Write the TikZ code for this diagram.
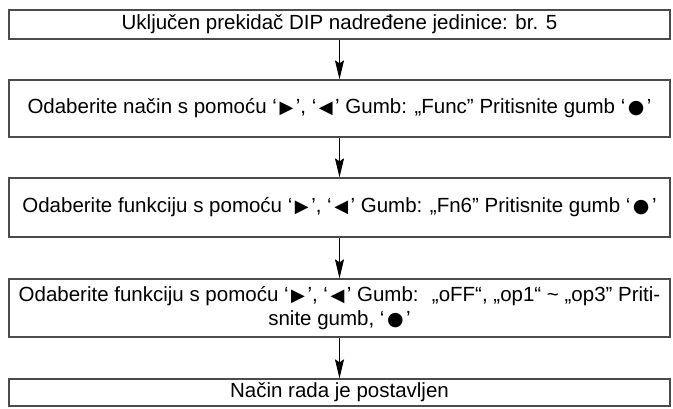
\documentclass[tikz,border=0pt]{standalone}
\usepackage{fontspec}
\setmainfont{Liberation Sans}
\newfontfamily\symfont{DejaVu Sans}
\usetikzlibrary{arrows.meta}
\tikzset{>={Stealth[length=19pt,width=9pt,inset=3pt]}}
\tikzset{stepbox/.style={draw={rgb,255:red,75;green,75;blue,75}, line width=1.3pt,
    minimum width=661pt, inner sep=0pt, align=center, font=\fontsize{20.5}{24.5}\selectfont}}
\newcommand{\rtri}{\hspace{2.5pt}{\symfont\fontsize{18}{18}\selectfont ▶}\hspace{2.5pt}}
\newcommand{\ltri}{\hspace{2.5pt}{\symfont\fontsize{18}{18}\selectfont ◀}\hspace{2.5pt}}
\newcommand{\dotbtn}{\hspace{2.5pt}{\symfont\fontsize{19}{19}\selectfont ●}\hspace{2.5pt}}

\begin{document}
\begin{tikzpicture}[x=1pt, y=-1pt]
      \useasboundingbox (0, 0) rectangle (673, 409);
      % boxes
      \node[stepbox, minimum height=29pt] (dip) at (339.5, 24.5) {Uključen prekidač DIP nadređene jedinice: br. 5};
      \node[stepbox, minimum height=57pt] (mode) at (339.5, 108.5) {Odaberite način s pomoću ‘\rtri’, ‘\ltri’ Gumb: „Func” Pritisnite gumb ‘\dotbtn’};
      \node[stepbox, minimum height=59pt] (func) at (339.5, 207.5) {Odaberite funkciju s pomoću ‘\rtri’, ‘\ltri’ Gumb: „Fn6” Pritisnite gumb ‘\dotbtn’};
      \node[stepbox, minimum height=58pt] (opt) at (339.5, 308) {Odaberite funkciju s pomoću ‘\rtri’, ‘\ltri’ Gumb: \ „oFF“, „op1“ \textasciitilde{} „op3” Priti-\\snite gumb, ‘\dotbtn’};
      \node[stepbox, minimum height=27pt] (done) at (339.5, 392.5) {Način rada je postavljen};
      % arrows
      \draw[->, line width=1pt] (dip) -- (mode);
      \draw[->, line width=1pt] (mode) -- (func);
      \draw[->, line width=1pt] (func) -- (opt);
      \draw[->, line width=1pt] (opt) -- (done);
\end{tikzpicture}
\end{document}
